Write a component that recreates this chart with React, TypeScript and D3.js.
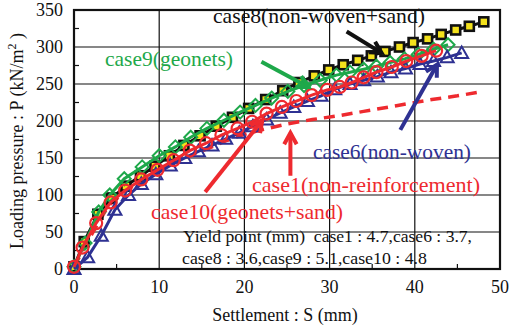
import React from 'react';
import * as d3 from 'd3';

// --- data (S in mm, P in kN/m2) ---
const xTicks = [0, 10, 20, 30, 40, 50];
const yTicks = [0, 50, 100, 150, 200, 250, 300, 350];
const xMinor = [5, 15, 25, 35, 45];
const yMinor = [25, 75, 125, 175, 225, 275, 325];

const case1 = [[0, 3], [2, 45], [4, 85], [6, 105], [8, 120], [10, 133], [12, 145], [14, 155], [16, 164], [18, 174], [20, 182], [22, 188], [25, 196], [28, 202], [31, 207], [34, 213], [38, 221], [42, 229], [45, 234], [48, 240]];

const case6 = [[0, 0], [1.6, 16], [3.2, 45], [4.8, 80], [6.4, 100], [7.9, 115], [9.6, 128], [11.3, 140], [13.0, 150], [14.6, 159], [16.2, 167], [17.8, 176], [19.4, 184], [21.0, 193], [22.6, 202], [24.2, 211], [25.8, 219], [27.4, 227], [29.0, 234], [30.6, 243], [32.4, 250], [34.0, 255], [35.6, 260], [37.2, 266], [38.9, 271], [40.6, 277], [42.2, 281], [43.8, 286], [45.5, 292]];

const case8 = [[0, 3], [1.2, 37], [2.8, 74], [4.4, 96], [6.1, 112], [7.8, 126], [9.5, 139], [11.2, 153], [12.9, 167], [14.8, 180], [16.7, 193], [18.6, 205], [20.5, 217], [22.5, 229], [24.5, 241], [26.4, 252], [28.2, 261], [29.9, 269], [31.6, 276], [33.3, 282], [34.9, 288], [36.5, 294], [38.2, 300], [39.8, 306], [41.5, 311], [43.1, 317], [44.8, 323], [46.4, 328], [48.1, 334]];

const case9 = [[0, 3], [1.3, 35], [2.9, 77], [4.2, 100], [5.9, 122], [8.0, 138], [10.0, 153], [11.9, 165], [13.7, 178], [15.6, 190], [17.6, 201], [19.5, 212], [21.3, 221], [23.2, 231], [25.1, 240], [27.0, 248], [28.9, 255], [30.8, 262], [32.4, 266], [34.0, 270], [35.5, 274], [37.1, 279], [38.8, 284], [40.4, 290], [42.2, 297], [43.9, 303]];

const case10 = [[0, 3], [1.0, 29], [2.6, 62], [4.3, 90], [6.0, 106], [7.9, 121], [9.8, 134], [11.7, 147], [13.6, 160], [15.5, 170], [17.3, 181], [19.2, 190], [20.9, 199], [22.6, 210], [24.4, 219], [26.1, 227], [27.9, 235], [29.7, 242], [31.2, 246], [32.6, 252], [34.0, 259], [35.5, 266], [37.3, 273], [39.0, 281], [40.8, 288], [42.5, 295]];

// annotation arrows, from -> tip, in data units
const arrows = [
  { from: [32, 321], to: [36.1, 292], color: '#111' },
  { from: [22, 280], to: [27.5, 246], color: '#1ea84a' },
  { from: [38.3, 188], to: [42.6, 276], color: '#2e3192' },
  { from: [25.4, 126], to: [25.4, 184], color: '#ee2a2f' },
  { from: [15.4, 104], to: [22.1, 201], color: '#ee2a2f' },
];

const RED = '#ee2a2f';
const GREEN = '#1ea84a';
const BLUE = '#2e3192';
const FONT = 'Liberation Serif';

const Arrow = ({ x1, y1, x2, y2, color }) => {
  const a = Math.atan2(y2 - y1, x2 - x1);
  const len = 13;
  const spread = 0.5;
  const h1 = [x2 - len * Math.cos(a - spread), y2 - len * Math.sin(a - spread)];
  const h2 = [x2 - len * Math.cos(a + spread), y2 - len * Math.sin(a + spread)];
  return (
    <g stroke={color} strokeWidth={4} fill="none" strokeLinecap="butt">
      <line x1={x1} y1={y1} x2={x2} y2={y2} />
      <polyline points={`${h1[0]},${h1[1]} ${x2},${y2} ${h2[0]},${h2[1]}`} />
    </g>
  );
};

export default function App() {
  const x = d3.scaleLinear().domain([0, 50]).range([74, 500]);
  const y = d3.scaleLinear().domain([0, 350]).range([269, 10]);
  const line = d3.line<number[]>().x(d => x(d[0])).y(d => y(d[1]));

  const square = (d, i) => (
    <rect key={i} x={x(d[0]) - 4.5} y={y(d[1]) - 4.5} width={9} height={9} fill="#f4e21c" stroke="#111" strokeWidth={2.6} />
  );
  const diamond = (d, i) => {
    const cx = x(d[0]), cy = y(d[1]), r = 6.5;
    return <polygon key={i} points={`${cx},${cy - r} ${cx + r},${cy} ${cx},${cy + r} ${cx - r},${cy}`} fill="none" stroke={GREEN} strokeWidth={2} />;
  };
  const circle = (d, i) => (
    <circle key={i} cx={x(d[0])} cy={y(d[1])} r={6} fill="none" stroke={RED} strokeWidth={2.2} />
  );
  const triangle = (d, i) => {
    const cx = x(d[0]), cy = y(d[1]);
    return <polygon key={i} points={`${cx},${cy - 6.5} ${cx + 6.5},${cy + 5} ${cx - 6.5},${cy + 5}`} fill="none" stroke={BLUE} strokeWidth={2} />;
  };

  return (
    <svg width={509} height={333} style={{ position: 'absolute', left: 0, top: 0, background: '#fff', fontFamily: FONT }}>
      {/* grid */}
      <g stroke="#111" strokeWidth={1.2}>
        {xTicks.slice(1, -1).map(t => <line key={'gx' + t} x1={x(t)} x2={x(t)} y1={y(0)} y2={y(350)} />)}
        {yTicks.slice(1, -1).map(t => <line key={'gy' + t} x1={x(0)} x2={x(50)} y1={y(t)} y2={y(t)} />)}
        {xMinor.map(t => <line key={'mx' + t} x1={x(t)} x2={x(t)} y1={y(0)} y2={y(0) - 5} />)}
        {yMinor.map(t => <line key={'my' + t} x1={x(0)} x2={x(0) + 5} y1={y(t)} y2={y(t)} />)}
      </g>
      <rect x={x(0)} y={y(350)} width={x(50) - x(0)} height={y(0) - y(350)} fill="none" stroke="#111" strokeWidth={2.2} />

      {/* tick labels */}
      <g fontSize={18} fill="#111">
        {yTicks.map(t => <text key={'ty' + t} x={63} y={y(t) + 6} textAnchor="end">{t}</text>)}
        {xTicks.map(t => <text key={'tx' + t} x={x(t)} y={293} textAnchor="middle">{t}</text>)}
      </g>

      {/* axis titles */}
      <text x={285} y={321} fontSize={18} textAnchor="middle" fill="#111">Settlement : S (mm)</text>
      <text transform="translate(23,141) rotate(-90)" fontSize={18} textAnchor="middle" fill="#111">
        Loading pressure : P (kN/m<tspan dy={-7} fontSize={12}>2</tspan><tspan dy={7}> )</tspan>
      </text>

      {/* series */}
      <path d={line(case1)} fill="none" stroke={RED} strokeWidth={3.5} strokeDasharray="11 7" />
      <path d={line(case8)} fill="none" stroke="#111" strokeWidth={3} />
      {case8.map(square)}
      <path d={line(case9)} fill="none" stroke={GREEN} strokeWidth={3} />
      {case9.map(diamond)}
      <path d={line(case6)} fill="none" stroke={BLUE} strokeWidth={3} />
      {case6.map(triangle)}
      <path d={line(case10)} fill="none" stroke={RED} strokeWidth={3} />
      {case10.map(circle)}

      {/* arrows */}
      {arrows.map((a, i) => (
        <Arrow key={i} x1={x(a.from[0])} y1={y(a.from[1])} x2={x(a.to[0])} y2={y(a.to[1])} color={a.color} />
      ))}

      {/* labels */}
      <g fontSize={21}>
        <text x={213} y={23} fill="#111" textLength={212} lengthAdjust="spacingAndGlyphs">case8(non-woven+sand)</text>
        <text x={105} y={66} fill={GREEN} textLength={128} lengthAdjust="spacingAndGlyphs">case9(geonets)</text>
        <text x={313} y={159} fill={BLUE} textLength={158} lengthAdjust="spacingAndGlyphs">case6(non-woven)</text>
        <text x={252} y={192} fill={RED} textLength={228} lengthAdjust="spacingAndGlyphs">case1(non-reinforcement)</text>
        <text x={151} y={219} fill={RED} textLength={192} lengthAdjust="spacingAndGlyphs">case10(geonets+sand)</text>
      </g>
      <g fontSize={17} fill="#111">
        <text x={183} y={242} textLength={289} lengthAdjust="spacingAndGlyphs" style={{ whiteSpace: 'pre' }}>Yield point (mm)  case1 : 4.7,case6 : 3.7,</text>
        <text x={182} y={264} textLength={245} lengthAdjust="spacingAndGlyphs">case8 : 3.6,case9 : 5.1,case10 : 4.8</text>
      </g>
    </svg>
  );
}
